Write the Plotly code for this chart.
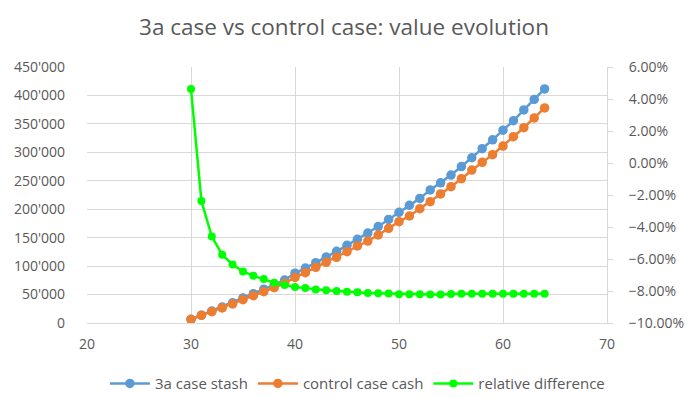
import plotly.graph_objects as go

ages = list(range(30, 65))
stash_3a = [6200, 13800, 20900, 28000, 35600, 44000, 51600, 59400, 67100, 75600,
            87500, 96500, 106000, 116000, 126000, 136500, 147000, 158000, 169500, 182000,
            194500, 207000, 219000, 234000, 246500, 260000, 275000, 290500, 306500, 322000,
            339000, 355500, 374500, 393000, 411500]
control_cash = [6500, 13500, 19900, 26400, 33400, 41000, 48000, 55100, 62100, 69800,
                80000, 88500, 97900, 106700, 115400, 125400, 135400, 144100, 154700, 166400,
                178100, 188100, 201000, 213200, 226800, 239600, 253700, 268900, 282500, 295900,
                311100, 327500, 343300, 360400, 378000]
rel_diff = [0.0463, -0.0237, -0.046, -0.0573, -0.0635, -0.0678, -0.0705, -0.0725, -0.0748, -0.0763,
            -0.0775, -0.0782, -0.079, -0.0795, -0.080, -0.0805, -0.0808, -0.0812, -0.0814, -0.0816,
            -0.082, -0.082, -0.082, -0.0822, -0.0822, -0.0818, -0.0817, -0.0817, -0.0817, -0.0817,
            -0.0817, -0.0817, -0.0817, -0.0817, -0.0817]

FONT = "Open Sans"
GREY = "#595959"
GRID = "#d9d9d9"

fig = go.Figure()
fig.add_trace(go.Scatter(x=ages, y=stash_3a, name="3a case stash", mode="lines+markers",
                         line=dict(color="#5b9bd5", width=2.5),
                         marker=dict(color="#5b9bd5", size=9.5)))
fig.add_trace(go.Scatter(x=ages, y=control_cash, name="control case cash", mode="lines+markers",
                         line=dict(color="#ed7d31", width=2.5),
                         marker=dict(color="#ed7d31", size=9.5)))
fig.add_trace(go.Scatter(x=ages, y=rel_diff, name="relative difference", mode="lines+markers",
                         yaxis="y2",
                         line=dict(color="#00ff00", width=2.5),
                         marker=dict(color="#00ff00", size=8)))

fig.update_layout(
    width=688, height=397,
    margin=dict(l=87, r=81, t=67, b=74, autoexpand=False),
    paper_bgcolor="white", plot_bgcolor="white",
    separators=".'",
    font=dict(family=FONT, color=GREY, size=14),
    title=dict(text="3a case vs control case: value evolution", x=0.5, xanchor="center",
               y=0.932, yanchor="middle", font=dict(family=FONT, size=22.5, color=GREY)),
    xaxis=dict(range=[20, 70], dtick=10, tick0=20, showgrid=True, gridcolor=GRID, gridwidth=1,
               showline=True, linecolor=GRID, zeroline=False, ticks="", automargin=False,
               ticklabelstandoff=8, ticklabeloverflow="allow",
               tickfont=dict(size=14, color=GREY)),
    yaxis=dict(range=[0, 450000], dtick=50000, tick0=0, tickformat=",d", showgrid=True,
               gridcolor=GRID, gridwidth=1, zeroline=False, showline=False, ticks="",
               automargin=False, ticklabelstandoff=21, ticklabeloverflow="allow",
               tickfont=dict(size=14, color=GREY)),
    yaxis2=dict(range=[-0.10, 0.06], dtick=0.02, tick0=-0.10, tickformat=".2%", overlaying="y",
                side="right", showgrid=False, zeroline=False, showline=True, linecolor=GRID,
                ticks="outside", ticklen=5, tickcolor=GRID, ticklabelstandoff=13,
                automargin=False, ticklabeloverflow="allow",
                tickfont=dict(size=14, color=GREY)),
    legend=dict(orientation="h", x=0.52, xanchor="center", y=-0.237, yanchor="middle",
                font=dict(size=15, color=GREY), itemwidth=40),
    showlegend=True,
)

fig.write_html("out.html", config={"displayModeBar": False},
               post_script="document.body.style.margin='0';document.body.style.padding='0';")
